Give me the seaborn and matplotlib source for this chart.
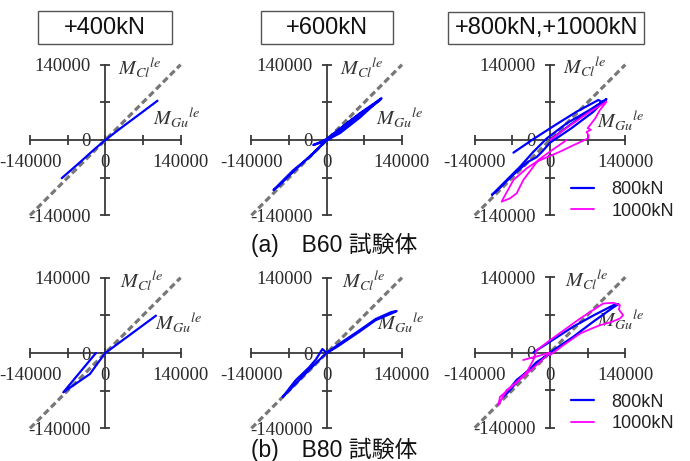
import numpy as np
import pandas as pd
import matplotlib
matplotlib.use("Agg")
import matplotlib.pyplot as plt
from matplotlib.patches import Rectangle
import seaborn as sns

sns.set_style("white")
plt.rcParams['font.family'] = ['Liberation Serif', 'DejaVu Serif']
plt.rcParams['mathtext.fontset'] = 'stix'

# axis ticks / reference line
tick_pos = [-140000, -70000, 0, 70000, 140000]
tick_lab = ['-140000', '', '0', '', '140000']
ref_line = [-140000, 140000]

panel_titles = ['+400kN', '+600kN', '+800kN,+1000kN']
row_captions = ['(a)\u3000B60 試験体', '(b)\u3000B80 試験体']
legend_labels = ['800kN', '1000kN']

# B60 +400kN
a400_x = [-81000, -50000, -20000, 0, 30000, 65000, 97000]
a400_y = [-71000, -44000, -17000, 0, 23000, 49000, 73000]

# B60 +600kN
a600_x = [0, 30000, 62000, 102000, 97000, 62000, 25000, -5000, -25000, -12000, 0, 40000,
          80000, 100000, 90000, 50000, 15000, 0, -31000, -62000, -99000, -92000, -58000, -16000, 0]
a600_y = [0, 25000, 50000, 77500, 74000, 42000, 13000, -3000, -9300, -4000, 2000, 33000,
          61000, 75000, 67000, 38000, 10000, 0, -31000, -56000, -93000, -88000, -55000, -16000, 0]

# B60 +800kN
a800_x = [0, 40000, 80000, 105000, 74000, 31000, -6000, -31000, -56000, -93000, -108000, -98000,
          -70000, -40000, -25000, -15000, 0, 40000, 80000, 98000, 90000, 49600, 10000, -30000, -68000]
a800_y = [0, 30000, 58000, 76000, 56000, 31000, 3000, -22000, -50000, -87000, -102000, -94000,
          -66000, -40000, -32000, -22000, -5000, 22000, 52000, 70000, 74400, 52700, 28000, 2300, -23500]

# B60 +1000kN
a1000_x = [0, 30000, 70000, 105000, 93000, 84000, 70000, 76000, 68000, 72000, 71000, 45000, 18600,
           -24800, -43400, -68000, -86800, -89900, -74400, -62000, -49600, -35000, -21700, 5000, 31000]
a1000_y = [0, 22000, 50000, 71000, 56000, 40000, 22000, 19000, 15000, 8000, 3000, -9000, -21700,
           -40300, -52700, -74400, -108500, -114700, -108500, -99200, -74400, -55000, -37200, -18000, 0]

# B80 +400kN
b400_x = [-17400, -78000, -60000, -28500, -13000, 0, 94200]
b400_y = [0, -73000, -60600, -39000, -17400, 0, 69400]

# B80 +600kN
b600_x = [0, 23000, 60000, 91000, 120000, 130000, 124000, 112000, 91000, 60000, 20000, 0,
          -8000, -20000, -33000, -58000, -82000, -70000, -40000, -15000, 0]
b600_y = [0, 16700, 41500, 63200, 76000, 78000, 75000, 70000, 61000, 39000, 12000, 0,
          7400, -12000, -27000, -51000, -82000, -70000, -39000, -14000, 0]

# B80 +800kN
b800_x = [-31000, 0, 43000, 81000, 118000, 127000, 115000, 80000, 43000, 0, -31000, -62000,
          -87000, -80000, -55000, -25000, -5000]
b800_y = [0, 20000, 48000, 69000, 88000, 90000, 82000, 57000, 29000, 0, -27000, -51000,
          -82000, -76000, -48000, -18000, -5000]

# B80 +1000kN
b1000_x = [-50000, -20000, 0, -18600, -49600, -80600, -96000, -93000, -68000, -43000, -30000, -25000,
           0, 56000, 99000, 118000, 130000, 128000, 136000, 130000, 115000, 93000, 77500, 56000, 25000, 0]
b1000_y = [-14000, -6000, 0, -17400, -45300, -70000, -98000, -82400, -60800, -36000, -12000, 4000,
           22900, 63200, 91100, 92400, 88000, 80000, 69400, 63200, 57000, 50800, 44600, 35300, 13600, -5000]

W, H = 690, 461
fig = plt.figure(figsize=(W / 100, H / 100), dpi=100)

# panel origins in pixels, half size of axis
origins = [(105.3, 140), (326.7, 140), (550, 140), (105.3, 353), (326.7, 353), (550, 352.5)]
half = 75.3
mgu_pos = [(89400, 40000), (91300, 40000), (88000, 36000), (92000, 56000), (93000, 56000), (88000, 60000)]
mcl_pos = [(24000, 134000), (24000, 134000), (24000, 136000), (28000, 134000), (28000, 134000), (28000, 134000)]

curves = [
    [(a400_x, a400_y, None)],
    [(a600_x, a600_y, None)],
    [(a800_x, a800_y, legend_labels[0]), (a1000_x, a1000_y, legend_labels[1])],
    [(b400_x, b400_y, None)],
    [(b600_x, b600_y, None)],
    [(b800_x, b800_y, legend_labels[0]), (b1000_x, b1000_y, legend_labels[1])],
]
colors = ['#0000ff', '#ff00ff']
axis_col = '#3a3a3a'

for i, (ox, oy) in enumerate(origins):
    ax = fig.add_axes([(ox - half) / W, 1 - (oy + half) / H, 2 * half / W, 2 * half / H])
    ax.set_facecolor('none')
    ax.set_xlim(-140000, 140000)
    ax.set_ylim(-140000, 140000)

    sns.lineplot(x=ref_line, y=ref_line, ax=ax, color='#777777', lw=2.3,
                 linestyle=(0, (2.0, 1.1)), clip_on=False, zorder=3)
    for j, (xs, ys, lab) in enumerate(curves[i]):
        sns.lineplot(x=xs, y=ys, ax=ax, sort=False, estimator=None, color=colors[j],
                     lw=1.6 if j == 0 else 1.3, label=lab, clip_on=False, zorder=4 + j)

    for s in ['top', 'right']:
        ax.spines[s].set_visible(False)
    for s in ['left', 'bottom']:
        ax.spines[s].set_position('zero')
        ax.spines[s].set_color(axis_col)
        ax.spines[s].set_linewidth(1.3)
    ax.set_xticks(tick_pos, tick_lab)
    ax.set_yticks(tick_pos, tick_lab)
    ax.tick_params(bottom=True, left=True, direction='inout', length=7.5, width=1.3,
                   color=axis_col, labelsize=13.5, labelcolor='#2a2a2a', pad=6.5)
    ax.set_xlabel('')
    ax.set_ylabel('')

    ax.text(mcl_pos[i][0], mcl_pos[i][1], r'$M_{Cl}{}^{le}$', fontsize=14.5, color='#333333',
            ha='left', va='center')
    ax.text(mgu_pos[i][0], mgu_pos[i][1], r'$M_{Gu}{}^{le}$', fontsize=14.5, color='#333333',
            ha='left', va='center', zorder=2)

    if i in (2, 5):
        ax.legend(loc='upper left', bbox_to_anchor=(571 / W, 1 - (oy + 41) / H),
                  bbox_transform=fig.transFigure, frameon=False,
                  prop={'family': 'Liberation Sans', 'size': 13}, labelcolor='#222222',
                  handlelength=1.25, handletextpad=1.0, labelspacing=0.25,
                  borderpad=0, borderaxespad=0)
    elif ax.get_legend() is not None:
        ax.get_legend().remove()

# title boxes on top row
boxes = [(38.3, 10.7, 171.7, 44.3), (261, 10.7, 393.3, 44.3), (448.3, 11.7, 644, 44.3)]
for (x0, y0, x1, y1), t in zip(boxes, panel_titles):
    fig.add_artist(Rectangle((x0 / W, 1 - y1 / H), (x1 - x0) / W, (y1 - y0) / H,
                             transform=fig.transFigure, fill=False, ec='#555555', lw=1.0))
    fig.text((x0 + x1) / 2 / W, 1 - 28 / H, t, ha='center', va='center', fontsize=17,
             family=['Liberation Sans', 'DejaVu Sans'], color='#111111')

fig.text(334 / W, 1 - 245 / H, row_captions[0], ha='center', va='center', fontsize=16.5,
         family=['Liberation Sans', 'Noto Sans CJK JP'], color='#111111')
fig.text(334 / W, 1 - 449.5 / H, row_captions[1], ha='center', va='center', fontsize=16.5,
         family=['Liberation Sans', 'Noto Sans CJK JP'], color='#111111')

fig.savefig('out.png', dpi=100, facecolor='white')
